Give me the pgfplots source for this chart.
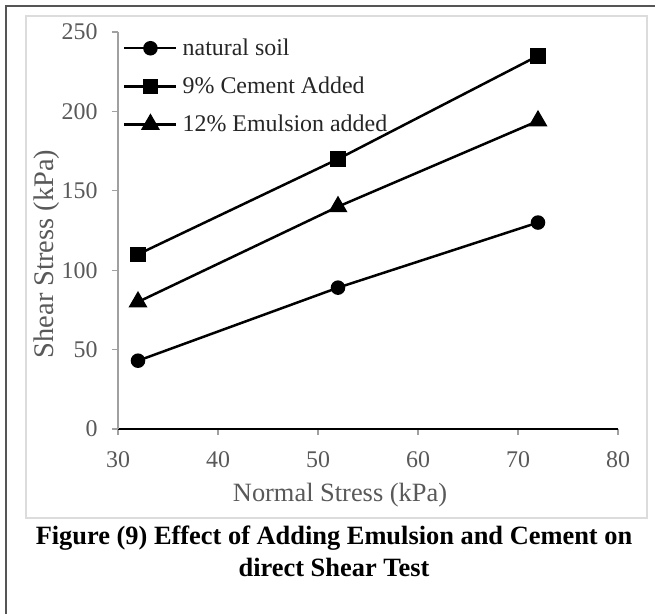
\documentclass[border=0pt]{standalone}
\usepackage{fontspec}
\setmainfont{Liberation Serif}
\usepackage{pgfplots}
\pgfplotsset{compat=1.18}
\definecolor{txtgray}{RGB}{89,89,89}
\definecolor{axgray}{RGB}{160,160,160}
\definecolor{framegray}{RGB}{85,85,85}
\definecolor{panelgray}{RGB}{220,220,220}

\begin{document}
\begin{tikzpicture}[x=1bp,y=1bp]
\useasboundingbox (0bp,0bp) rectangle (655bp,614bp);
% outer frame (left and top edges visible)
\draw[framegray, line width=2bp] (6bp,-5bp) -- (6bp,608bp) -- (660bp,608bp);
% chart area
\draw[panelgray, line width=1.5bp, fill=white] (26bp,96bp) rectangle (647bp,598bp);
\begin{axis}[
  at={(118bp,185bp)}, anchor=south west,
  scale only axis, width=500bp, height=397bp,
  xmin=30, xmax=80, ymin=0, ymax=250,
  xtick={30,40,...,80}, ytick={0,50,...,250},
  axis x line=bottom, axis y line=left,
  x axis line style={-, black, line width=1.2bp},
  y axis line style={-, axgray, line width=1.5bp},
  tick align=outside, major tick length=6bp,
  xtick style={axgray, line width=1.2bp},
  ytick style={axgray, line width=1.2bp},
  ticklabel style={font=\fontsize{24}{24}\selectfont, text=txtgray},
  /pgf/number format/assume math mode=true,
  xticklabel style={yshift=-13bp},
  yticklabel style={xshift=-11bp},
  xlabel={Normal Stress (kPa)}, ylabel={Shear Stress (kPa)},
  label style={text=txtgray},
  xlabel style={font=\fontsize{26.5}{26.5}\selectfont,
    at={(rel axis cs:0.444,0)}, anchor=center, yshift=-66bp},
  ylabel style={font=\fontsize{28.5}{28.5}\selectfont,
    at={(rel axis cs:0,0.441)}, anchor=center, yshift=71bp},
  legend cell align=left,
  legend style={draw=none, fill=none, at={(rel axis cs:0,1)}, anchor=north west,
    xshift=5bp, yshift=-7bp, font=\fontsize{24}{24}\selectfont, text=black!85,
    row sep=20bp, column sep=5bp, inner sep=0pt, nodes={inner sep=0pt}},
  legend image code/.code={\draw[mark repeat=2,mark phase=2,#1]
    plot coordinates {(0bp,0bp) (26bp,0bp) (52bp,0bp)};},
  every axis plot/.append style={black, line width=2.5bp},
  clip=false,
]
\addplot[mark=*, mark size=6bp] coordinates {(32,43) (52,89) (72,130)};
\addlegendentry{natural soil}
\addplot[mark=square*, mark size=6.5bp] coordinates {(32,110) (52,170) (72,235)};
\addlegendentry{9\% Cement Added}
\addplot[mark=triangle*, mark size=8.5bp] coordinates {(32,80) (52,140) (72,194)};
\addlegendentry{12\% Emulsion added}
\end{axis}
\node[font=\bfseries\fontsize{26.5}{29}\selectfont] at (334bp,76bp) {Figure (9) Effect of Adding Emulsion and Cement on};
\node[font=\bfseries\fontsize{26.5}{29}\selectfont] at (334bp,47bp) {direct Shear Test};
\end{tikzpicture}
\end{document}
